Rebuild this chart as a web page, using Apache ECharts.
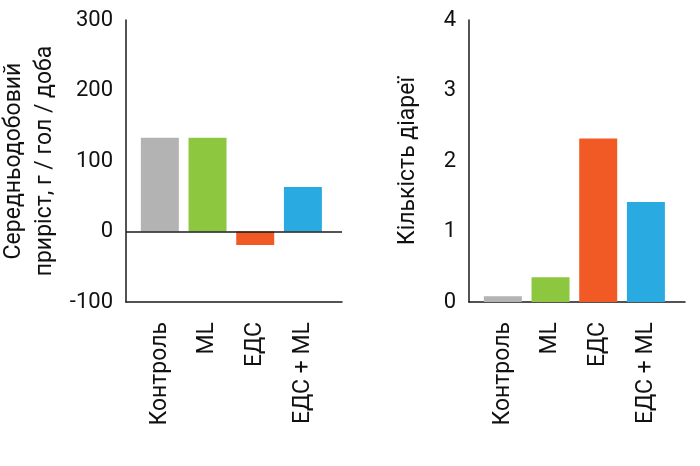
<!DOCTYPE html>
<html><head><meta charset="utf-8">
<script src="https://cdn.jsdelivr.net/npm/echarts@6/dist/echarts.min.js"></script>
<style>html,body{margin:0;padding:0;background:#fff}#c{width:700px;height:466px}</style>
</head><body><div id="c"></div>
<script>
const categories = ['Контроль', 'ML', 'ЕДС', 'ЕДС + ML'];
const colors = ['#b3b3b3', '#8dc63f', '#f15a24', '#29abe2'];
const gainValues = [133, 133, -19, 63];
const diarrheaValues = [0.08, 0.35, 2.32, 1.42];
const gainTicks = {min: -100, max: 300, interval: 100};
const diarrheaTicks = {min: 0, max: 4, interval: 1};
const gainTitle = 'Середньодобовий\nприріст, г / гол / доба';
const diarrheaTitle = 'Кількість діареї';

const FONT = 'Roboto';
const axisColor = '#1a1a1a';

function xAxis(gi) {
  return {
    type: 'value', gridIndex: gi, min: -0.71, max: 3.82,
    axisLine: {show: true, onZero: false, lineStyle: {color: axisColor, width: 1.5}},
    axisTick: {show: false},
    splitLine: {show: false},
    axisLabel: {
      customValues: categories.map((c, i) => i),
      formatter: v => categories[Math.round(v)],
      rotate: 90, margin: 20, color: '#111', fontFamily: FONT, fontSize: 23
    }
  };
}
function yAxis(gi, t, name, gap) {
  return {
    type: 'value', gridIndex: gi, min: t.min, max: t.max, interval: t.interval,
    name: name, nameLocation: 'middle', nameRotate: 90, nameGap: gap,
    nameTextStyle: {color: '#111', fontFamily: FONT, fontSize: 23, lineHeight: 31},
    axisLine: {show: true, onZero: false, lineStyle: {color: axisColor, width: 1.5}},
    axisTick: {show: false},
    splitLine: {show: false},
    axisLabel: {margin: 13, color: '#111', fontFamily: FONT, fontSize: 22}
  };
}
function barSeries(gi, vals, withZero) {
  const s = {
    type: 'bar', xAxisIndex: gi, yAxisIndex: gi, barWidth: 38,
    data: vals.map((v, i) => ({value: [i, v], itemStyle: {color: colors[i]}})),
    silent: true
  };
  if (withZero) {
    s.markLine = {
      silent: true, symbol: 'none', label: {show: false},
      lineStyle: {color: axisColor, width: 1.5, type: 'solid'},
      data: [{yAxis: 0}]
    };
  }
  return s;
}

const chart = echarts.init(document.getElementById('c'), null, {renderer: 'canvas'});
chart.setOption({
  animation: false,
  backgroundColor: '#fff',
  grid: [
    {left: 126, top: 20, width: 216, height: 282, outerBoundsMode: 'none', containLabel: false},
    {left: 469, top: 20, width: 216, height: 282, outerBoundsMode: 'none', containLabel: false}
  ],
  xAxis: [xAxis(0), xAxis(1)],
  yAxis: [yAxis(0, gainTicks, gainTitle, 65), yAxis(1, diarrheaTicks, diarrheaTitle, 45)],
  series: [barSeries(0, gainValues, true), barSeries(1, diarrheaValues, false)]
});
</script></body></html>
